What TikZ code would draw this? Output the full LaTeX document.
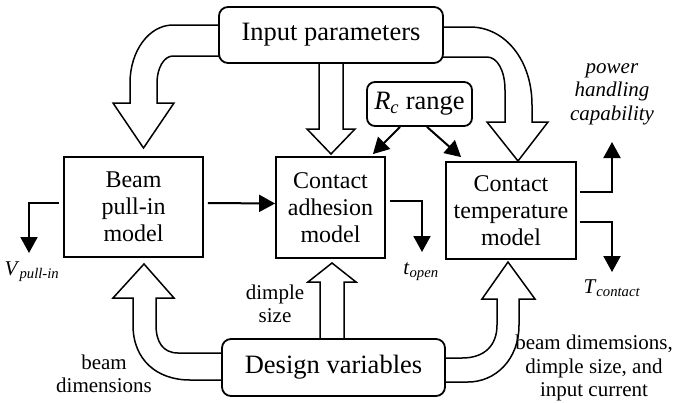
\documentclass[tikz,border=0pt]{standalone}
\usepackage{fontspec}
\setmainfont{Liberation Serif}
\usetikzlibrary{arrows.meta,calc}
\newcommand\szbig{\fontsize{26.5}{30}\selectfont}
\newcommand\szbox{\fontsize{24}{27}\selectfont}
\newcommand\szlab{\fontsize{21}{23.5}\selectfont}
\begin{document}
\begin{tikzpicture}[x=1pt,y=-1pt,
  model/.style={draw,line width=1.8pt,fill=white,align=center,inner sep=0pt,font=\szbox},
  rbox/.style={draw,line width=1.8pt,fill=white,rounded corners=9pt,inner sep=0pt,font=\szbig},
  hollow/.style={draw,line width=1.5pt,fill=white,line join=miter},
  arr/.style={line width=2pt,-{Triangle[length=16pt,width=17pt]}},
  lab/.style={font=\szlab,align=center,inner sep=0pt}]
\useasboundingbox (0,0) rectangle (683,402);

% hollow arrows (drawn first, boxes on top)
\path[hollow] (225,25) -- (173,25) .. controls (149,25) and (130,51) .. (130,83) -- (130,103) -- (113,103) -- (143.5,148) -- (174,103) -- (157,103) -- (157,83) .. controls (157,68) and (164,56) .. (173,56) -- (225,56);
\path[hollow] (319,58) -- (319,129) -- (307,129) -- (331,154) -- (355,129) -- (343,129) -- (343,58);
\path[hollow] (437,27) -- (470,27) .. controls (505,27) and (532,60) .. (532,105) -- (532,122) -- (548,122) -- (518,161) -- (487,122) -- (505,122) -- (505,90) .. controls (505,70) and (497,57) .. (487,57) -- (437,57);
\path[hollow] (228,380) -- (190,380) .. controls (157,380) and (133,360) .. (133,325) -- (133,298) -- (113,298) -- (144,264) -- (174,298) -- (156,298) -- (156,325) .. controls (156,342) and (163,353) .. (178,353) -- (228,353);
\path[hollow] (320,344) -- (320,282) -- (308,282) -- (332,263) -- (356,282) -- (344,282) -- (344,344);
\path[hollow] (440,358) -- (462,358) .. controls (485,358) and (497,345) .. (497,325) -- (497,299) -- (482,299) -- (508,262) -- (535,299) -- (519,299) -- (519,325) .. controls (519,360) and (495,382) .. (468,382) -- (440,382);

% boxes
\node[rbox,minimum width=224pt,minimum height=56pt] (inp) at (331,35) {Input parameters};
\node[rbox,rounded corners=8pt,minimum width=105pt,minimum height=44pt] (rc) at (419.5,104) {\textit{R\textsubscript{c}} range};
\node[model,minimum width=139pt,minimum height=100pt] (beam) at (133.5,207) {Beam\\pull-in\\model};
\node[model,minimum width=109pt,minimum height=101pt] (adh) at (330.5,207.5) {Contact\\adhesion\\model};
\node[model,minimum width=130pt,minimum height=97pt] (temp) at (511,210.5) {Contact\\temperature\\model};
\node[rbox,minimum width=223pt,minimum height=57pt] (des) at (333.5,367.5) {Design variables};

% labels
\node[lab] (power) at (612,94) {\textit{power}\\\textit{handling}\\\textit{capability}};
\node[lab] (vpull) at (32,272) {\textit{V}\textsubscript{\textit{pull-in}}};
\node[lab] (topen) at (421,272) {\textit{t}\textsubscript{\textit{open}}};
\node[lab] (tcont) at (612,288) {\textit{T}\textsubscript{\textit{contact}}};
\node[lab] (dimple) at (275,304) {dimple\\size};
\node[lab] (beamdim) at (104,374) {beam\\dimensions};
\node[lab] (dvars) at (594,368) {beam dimemsions,\\dimple size, and\\input current};

\coordinate (vend) at (29,253);
\coordinate (oend) at (422,252);
\coordinate (pend) at (612,142);
\coordinate (tend) at (612,272);

% connectors
\draw[arr] ([shift={(4pt,4pt)}]beam.east) -- ([yshift=4pt]adh.west);
\draw[arr] ([shift={(-4pt,4pt)}]beam.west) -| (vend);
\draw[arr] ([shift={(4pt,6.5pt)}]adh.east) -| (oend);
\draw[arr] ([shift={(3pt,18.5pt)}]temp.east) -| (pend);
\draw[arr] ([shift={(3pt,-11.5pt)}]temp.east) -| (tend);
\draw[arr] ([xshift=-19.5pt]rc.south) -- ([shift={(-13pt,2pt)}]adh.north east);
\draw[arr] ([xshift=7.5pt]rc.south) -- ([shift={(16pt,4pt)}]temp.north west);
\end{tikzpicture}
\end{document}
